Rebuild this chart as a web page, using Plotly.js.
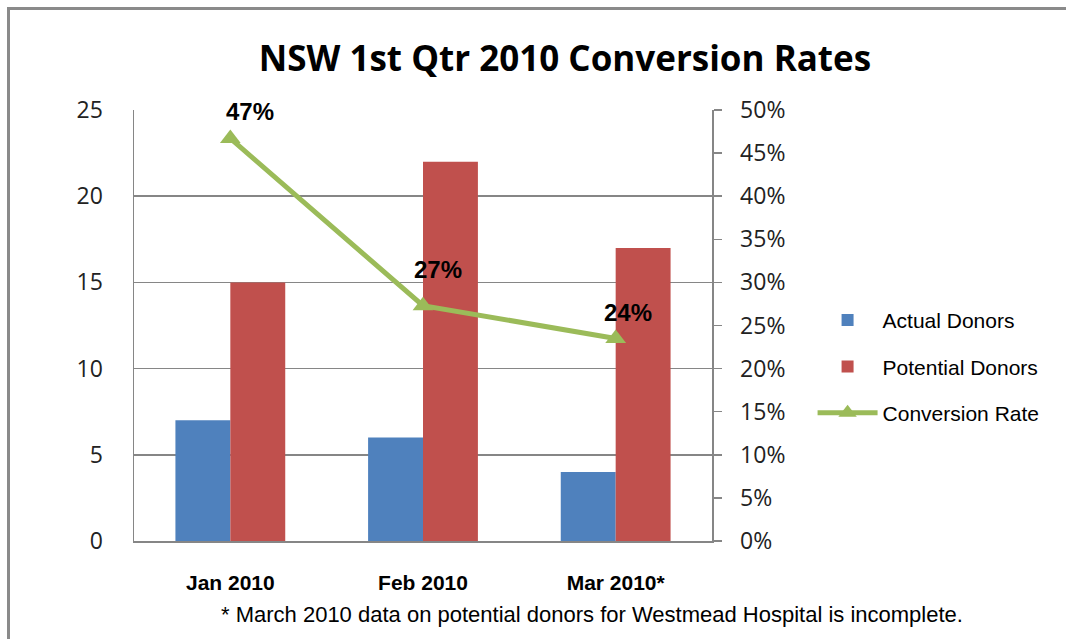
<!DOCTYPE html>
<html><head><meta charset="utf-8">
<script src="https://cdn.plot.ly/plotly-3.0.1.min.js"></script>
<style>
html,body{margin:0;padding:0;background:#fff;}
#wrap{position:relative;width:1066px;height:639px;overflow:hidden;}
#chart{width:1066px;height:639px;}
#frame{position:absolute;left:7px;top:7px;width:1100px;height:700px;border:3px solid #8a8a8a;pointer-events:none;box-sizing:border-box;}
</style></head>
<body>
<div id="wrap"><div id="chart"></div><div id="frame"></div></div>
<script>
const categories = ["Jan 2010", "Feb 2010", "Mar 2010*"];
const actualDonors = [7, 6, 4];
const potentialDonors = [15, 22, 17];
const conversionRate = [0.467, 0.273, 0.235];
const rateLabels = ["47%", "27%", "24%"];
const leftTicks = [0, 5, 10, 15, 20, 25];
const rightTicks = [0, 0.05, 0.1, 0.15, 0.2, 0.25, 0.3, 0.35, 0.4, 0.45, 0.5];
const rightTickText = ["0%","5%","10%","15%","20%","25%","30%","35%","40%","45%","50%"];
const footnote = "* March 2010 data on potential donors for Westmead Hospital is incomplete.";

const traces = [
  {type:'bar', name:'Actual Donors', x:categories, y:actualDonors, marker:{color:'#4F81BD'}, legendgroup:'a'},
  {type:'bar', name:'Potential Donors', x:categories, y:potentialDonors, marker:{color:'#C0504D'}, legendgroup:'b'},
  {type:'scatter', mode:'lines+markers', name:'Conversion Rate', x:categories, y:conversionRate, yaxis:'y2',
   line:{color:'#9BBB59', width:5}, marker:{symbol:'triangle-up', size:18, color:'#9BBB59'}, legendgroup:'c'}
];

const xshifts = [20, 15, 12];
const yshifts = [27, 36, 26];
const annotations = categories.map((c,i)=>({
  x:c, y:conversionRate[i], xref:'x', yref:'y2', text:rateLabels[i], showarrow:false,
  xshift:xshifts[i], yshift:yshifts[i], font:{family:'Liberation Sans, Arial, sans-serif', size:24, color:'#000', weight:'bold'}
}));
annotations.push({xref:'paper', yref:'paper', x:0.792, y:-0.17, xanchor:'center', yanchor:'middle', showarrow:false,
  text:footnote, font:{family:'Liberation Sans, Arial, sans-serif', size:22, color:'#000'}});

const layout = {
  width:1066, height:639,
  margin:{l:134, r:354, t:110, b:98, autoexpand:false},
  paper_bgcolor:'#fff', plot_bgcolor:'#fff',
  title:{text:'NSW 1st Qtr 2010 Conversion Rates', x:0.53, xanchor:'center', y:0.908, yanchor:'middle',
    font:{family:'Open Sans, sans-serif', size:35, color:'#000', weight:'bold'}},
  barmode:'group', bargap:0.43, bargroupgap:0,
  showlegend:true,
  legend:{x:1.174, xanchor:'left', y:0.405, yanchor:'middle', traceorder:'grouped', tracegroupgap:16,
    font:{family:'Liberation Sans, Arial, sans-serif', size:21, color:'#000'}, itemwidth:60, bgcolor:'rgba(0,0,0,0)'},
  xaxis:{showgrid:false, showline:true, linecolor:'#868686', linewidth:1.5, ticks:'', zeroline:false,
    ticklabelstandoff:22,
    tickfont:{family:'Liberation Sans, Arial, sans-serif', size:21, color:'#000', weight:'bold'}},
  yaxis:{range:[0,25], tickvals:leftTicks, showgrid:true, gridcolor:'#868686', gridwidth:1.5, showline:true, linecolor:'#868686', linewidth:1.5,
    zeroline:false, ticks:'', ticklabelstandoff:25,
    tickfont:{family:'Open Sans, sans-serif', size:23, color:'#222'}},
  yaxis2:{range:[0,0.5], overlaying:'y', side:'right', tickvals:rightTicks, ticktext:rightTickText,
    showgrid:false, showline:true, linecolor:'#868686', linewidth:1.5, ticks:'outside', ticklen:8, tickcolor:'#868686', tickwidth:1.5,
    zeroline:false, ticklabelstandoff:14,
    tickfont:{family:'Open Sans, sans-serif', size:23, color:'#222'}},
  annotations:annotations
};
Plotly.newPlot('chart', traces, layout, {displayModeBar:false, staticPlot:true});
</script>
</body></html>
